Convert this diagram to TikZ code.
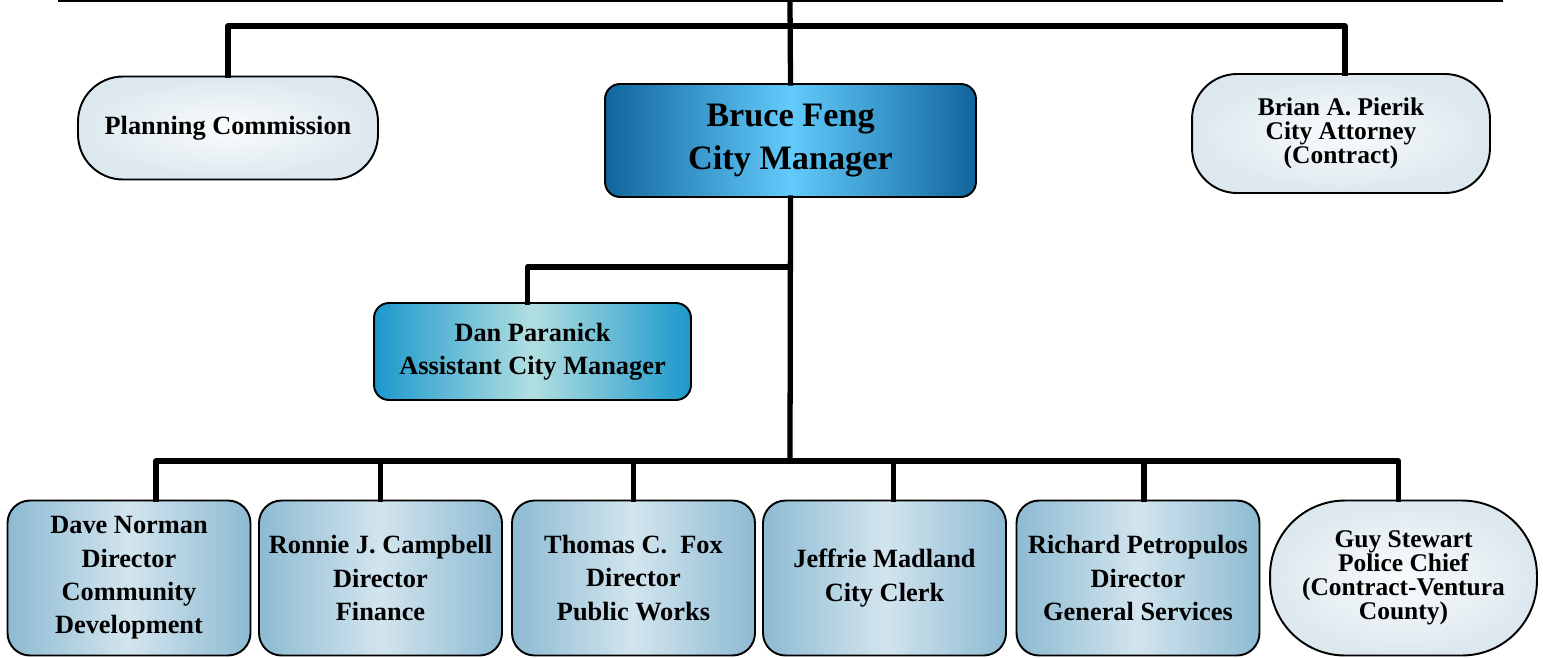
\documentclass[tikz,border=0pt]{standalone}
\usepackage{fontspec}
\setmainfont{Liberation Serif}
\definecolor{cmedge}{HTML}{11659C}
\definecolor{cmmid}{HTML}{62CBFB}
\definecolor{acedge}{HTML}{1B98CC}
\definecolor{acmid}{HTML}{B2DFE0}
\definecolor{dpedge}{HTML}{8DBAD2}
\definecolor{dpmid}{HTML}{D3E5EE}
\definecolor{pillin}{HTML}{FAFCFD}
\definecolor{pillout}{HTML}{DCE8EE}
\tikzset{
  conn/.style={line width=3pt,line cap=rect},
  base/.style={draw,line width=1.1pt,align=center,inner sep=0pt,
    font=\bfseries\fontsize{15}{19}\selectfont},
  pill/.style={base,rounded corners=0.9cm,inner color=pillin,outer color=pillout,
    font=\bfseries\fontsize{14.5}{13.6}\selectfont},
  chief/.style={base,rounded corners=0.3cm,left color=cmedge,right color=cmedge,middle color=cmmid,
    font=\bfseries\fontsize{19.5}{24.4}\selectfont},
  asst/.style={base,rounded corners=0.3cm,left color=acedge,right color=acedge,middle color=acmid},
  dept/.style={base,rounded corners=0.45cm,left color=dpedge,right color=dpedge,middle color=dpmid,
    minimum width=4.86cm,minimum height=3.1cm},
}
\begin{document}
\begin{tikzpicture}[x=0.02cm,y=-0.02cm,line join=round]
  \useasboundingbox (0,0) rectangle (1543,657);
  % top level
  \node[chief,minimum width=7.42cm,minimum height=2.26cm] (cm) at (790.5,140.5) {Bruce Feng\\City Manager};
  \node[pill,minimum width=6cm,minimum height=2.06cm,font=\bfseries\fontsize{15}{19}\selectfont] (pc) at (228,128) {Planning Commission};
  \node[pill,minimum width=5.96cm,minimum height=2.38cm] (ca) at (1341,133.5) {Brian A. Pierik\\City Attorney\\(Contract)};
  \node[asst,minimum width=6.34cm,minimum height=1.94cm] (acm) at (532.5,351.5) {Dan Paranick\\Assistant City Manager};
  % departments
  \node[dept] (dn) at (129,578) {Dave Norman\\Director\\Community\\Development};
  \node[dept] (rc) at (380.5,578) {Ronnie J. Campbell\\Director\\Finance};
  \node[dept] (tf) at (633.5,578) {Thomas C.\ \ Fox\\Director\\Public Works};
  \node[dept] (jm) at (884.5,578) {Jeffrie Madland\\City Clerk};
  \node[dept] (rp) at (1138,578) {Richard Petropulos\\Director\\General Services};
  \node[pill,rounded corners=1.5cm,minimum width=5.34cm,minimum height=3.1cm] (gs) at (1403.5,578) {Guy Stewart\\Police Chief\\(Contract-Ventura\\County)};
  % connectors
  \coordinate (tl) at (58,1);
  \coordinate (tr) at (1503,1);
  \coordinate (top) at (790,0);
  \coordinate (upbar) at (790,26);
  \coordinate (acbar) at (790,267);
  \coordinate (bus) at (790,461);
  \draw[line width=1.2pt] (tl) -- (tr);
  \draw[conn] (top) -- (cm.north);
  \draw[conn] (pc.north) |- (upbar) -| ([xshift=0.08cm]ca.north);
  \draw[conn] (cm.south) -- (bus);
  \draw[conn] ([xshift=-0.1cm]acm.north) |- (acbar);
  \draw[conn] ([xshift=0.54cm]dn.north) |- (bus) -| ([xshift=-0.1cm]gs.north);
  \foreach \n/\s in {rc/0,tf/0,jm/0.18,rp/0.12}
    \draw[conn] ([xshift=\s cm]\n.north) -- ([xshift=\s cm]\n.north |- bus);
\end{tikzpicture}
\end{document}
